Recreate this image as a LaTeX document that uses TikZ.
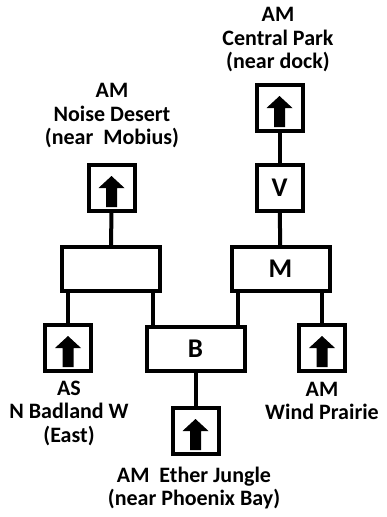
\documentclass[tikz,border=0pt]{standalone}
\usepackage{fontspec}
\setmainfont{Carlito}
\begin{document}
\begin{tikzpicture}[x=1pt,y=-1pt,
  box/.style={draw,line width=4pt,minimum width=46pt,minimum height=46pt,inner sep=0pt,font=\bfseries\fontsize{27}{27}\selectfont},
  wide/.style={box,minimum width=98pt,minimum height=44pt},
  conn/.style={line width=4pt},
  lbl/.style={align=center,inner sep=0pt,font=\bfseries\fontsize{22}{23.5}\selectfont},
  uparrow/.pic={\fill (0,-12) -- (13,0) -- (5.5,0) -- (5.5,19) -- (-5.5,19) -- (-5.5,0) -- (-13,0) -- cycle;}]
\useasboundingbox (0,0) rectangle (387,517);
% boxes
\node[box] (cp) at (279.5,108) {};
\node[box] (v) at (279.5,188) {V};
\node[box] (nd) at (111.5,188) {};
\node[wide] (l) at (111,269) {};
\node[wide] (m) at (280.5,269) {M};
\node[box] (as) at (68,348) {};
\node[wide] (b) at (195.5,349) {B};
\node[box] (wp) at (322,348) {};
\node[box] (ej) at (195.5,431) {};
% arrows
\pic at (cp) {uparrow};
\pic at (nd) {uparrow};
\pic at (as) {uparrow};
\pic at (wp) {uparrow};
\pic at (ej) {uparrow};
% connectors
\draw[conn] (cp) -- (v);
\draw[conn] (v) -- (m);
\draw[conn] (nd) -- (l);
\draw[conn] (as.north) -- (as.north |- l.south);
\coordinate (lb) at ([xshift=-9pt]l.south east);
\draw[conn] (lb) -- (lb |- b.north);
\coordinate (mb) at ([xshift=8pt]m.south west);
\draw[conn] (mb) -- (mb |- b.north);
\draw[conn] (wp.north) -- (wp.north |- m.south);
\draw[conn] (b) -- (ej);
% labels
\node[lbl] (tcp) at (278,40) {AM\\Central Park\\(near dock)};
\node[lbl] (tnd) at (112,116) {AM\\Noise Desert\\(near\ \ Mobius)};
\node[lbl] (tas) at (69,413) {AS\\N Badland W\\(East)};
\node[lbl] (twp) at (322,401) {AM\\Wind Prairie};
\node[lbl] (tej) at (194,488) {AM\ \ Ether Jungle\\(near Phoenix Bay)};
\end{tikzpicture}
\end{document}
